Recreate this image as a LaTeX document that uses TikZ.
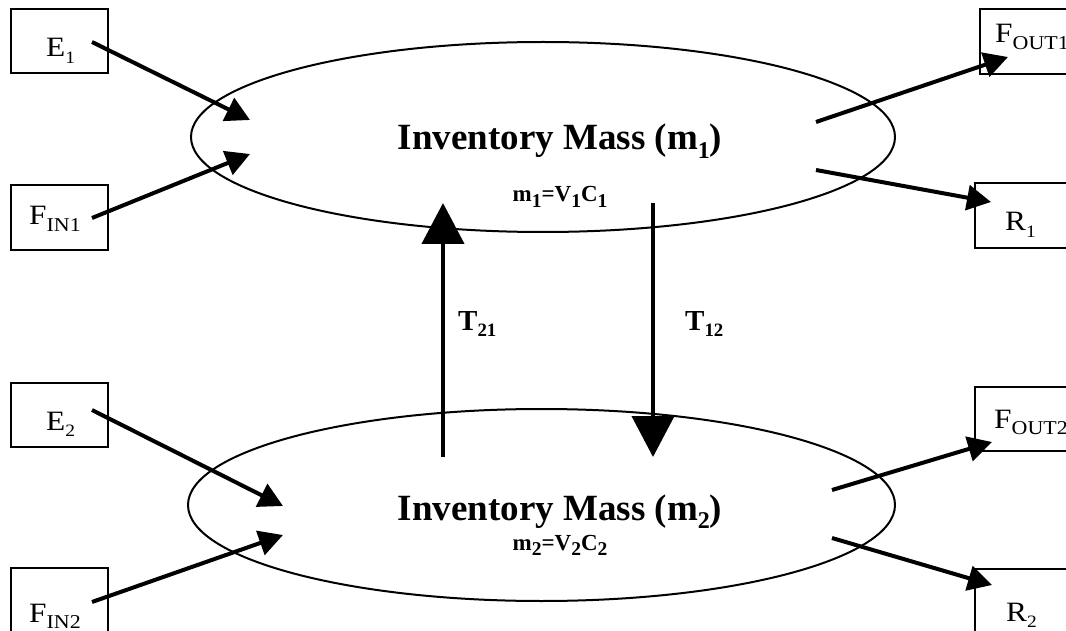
\documentclass[tikz,border=0pt]{standalone}
\usepackage{fontspec}
\setmainfont{Liberation Serif}
\newfontfamily\wideserif[FakeStretch=1.12]{Liberation Serif}
\usetikzlibrary{arrows.meta,shapes.geometric}
\newcommand{\lowsub}[2][0.65]{\raisebox{-0.22em}{\scalebox{#1}{#2}}}
\tikzset{
  boxnode/.style={draw, line width=1.8pt, minimum width=97pt, minimum height=64pt, inner sep=0pt},
  tank/.style={draw, ellipse, line width=2pt, inner sep=0pt},
  lbl/.style={anchor=base west, inner sep=0pt, font=\wideserif\fontsize{28}{32}\selectfont},
  title/.style={anchor=base, inner sep=0pt, font=\fontsize{37}{42}\selectfont\bfseries},
  eqn/.style={anchor=base, inner sep=0pt, font=\fontsize{23}{27}\selectfont\bfseries},
  tlbl/.style={anchor=base west, inner sep=0pt, font=\fontsize{29}{34}\selectfont\bfseries},
  flow/.style={line width=4pt, -{Triangle[length=24pt, width=25pt]}},
  xfer/.style={line width=4.2pt, -{Triangle[length=41pt, width=42pt]}}
}
\begin{document}
\begin{tikzpicture}[x=1pt, y=-1pt]
\useasboundingbox (0,0) rectangle (1066,631);
\clip (0,0) rectangle (1066,631);
% tanks
\node[tank, minimum width=704pt, minimum height=190pt] (m1) at (543,137) {};
\node[tank, minimum width=707pt, minimum height=192pt] (m2) at (541.5,505) {};
% boxes
\node[boxnode] (e1box) at (59.5,41) {};
\node[boxnode, minimum height=65pt] (fin1box) at (59.5,217.5) {};
\node[boxnode] (e2box) at (59.5,415) {};
\node[boxnode, minimum height=80pt] (fin2box) at (59.5,608) {};
\node[boxnode, minimum width=110pt, minimum height=65pt] (fout1box) at (1035,41.5) {};
\node[boxnode, minimum width=115pt, minimum height=65pt] (r1box) at (1032.5,215.5) {};
\node[boxnode, minimum width=115pt] (fout2box) at (1032.5,419) {};
\node[boxnode, minimum width=115pt, minimum height=80pt] (r2box) at (1032.5,609) {};
% labels
\node[lbl] (e1) at (46,57) {E\lowsub[0.62]{1}};
\node[lbl] (fin1) at (29,225) {F\lowsub[0.7]{IN1}};
\node[lbl] (e2) at (46,430) {E\lowsub[0.62]{2}};
\node[lbl] (fin2) at (29,622) {F\lowsub[0.7]{IN2}};
\node[lbl] (fout1) at (995,43) {F\lowsub[0.7]{OUT1}};
\node[lbl] (r1) at (1005,231) {R\lowsub[0.62]{1}};
\node[lbl] (fout2) at (994,428) {F\lowsub[0.7]{OUT2}};
\node[lbl] (r2) at (1006,621) {R\lowsub[0.62]{2}};
% texts in tanks
\node[title] (t1) at (560,150) {Inventory Mass (m\lowsub{1})};
\node[eqn] (q1) at (560,202) {m\lowsub[0.85]{1}=V\lowsub[0.85]{1}C\lowsub[0.85]{1}};
\node[title] (t2) at (560,520) {Inventory Mass (m\lowsub{2})};
\node[eqn] (q2) at (560,550) {m\lowsub[0.85]{2}=V\lowsub[0.85]{2}C\lowsub[0.85]{2}};
\node[tlbl] (t21) at (458,330) {T\lowsub[0.65]{21}};
\node[tlbl] (t12) at (685,330) {T\lowsub[0.65]{12}};
% connector end points
\coordinate (e1s) at (92,42);   \coordinate (e1t) at (250,120);
\coordinate (f1s) at (92,218);  \coordinate (f1t) at (250,154);
\coordinate (o1s) at (816,122); \coordinate (o1t) at (1008,57);
\coordinate (r1s) at (816,170); \coordinate (r1t) at (991,202);
\coordinate (e2s) at (92,410);  \coordinate (e2t) at (283,506);
\coordinate (f2s) at (92,602);  \coordinate (f2t) at (283,535);
\coordinate (o2s) at (832,490); \coordinate (o2t) at (992,442);
\coordinate (r2s) at (832,538); \coordinate (r2t) at (992,585);
\coordinate (up1) at (443,457); \coordinate (up2) at (443,203);
\coordinate (dn1) at (653,203); \coordinate (dn2) at (653,457);
% connectors
\draw[flow] (e1s) -- (e1t);
\draw[flow] (f1s) -- (f1t);
\draw[flow] (o1s) -- (o1t);
\draw[flow] (r1s) -- (r1t);
\draw[flow] (e2s) -- (e2t);
\draw[flow] (f2s) -- (f2t);
\draw[flow] (o2s) -- (o2t);
\draw[flow] (r2s) -- (r2t);
\draw[xfer] (up1) -- (up2);
\draw[xfer] (dn1) -- (dn2);
\end{tikzpicture}
\end{document}
